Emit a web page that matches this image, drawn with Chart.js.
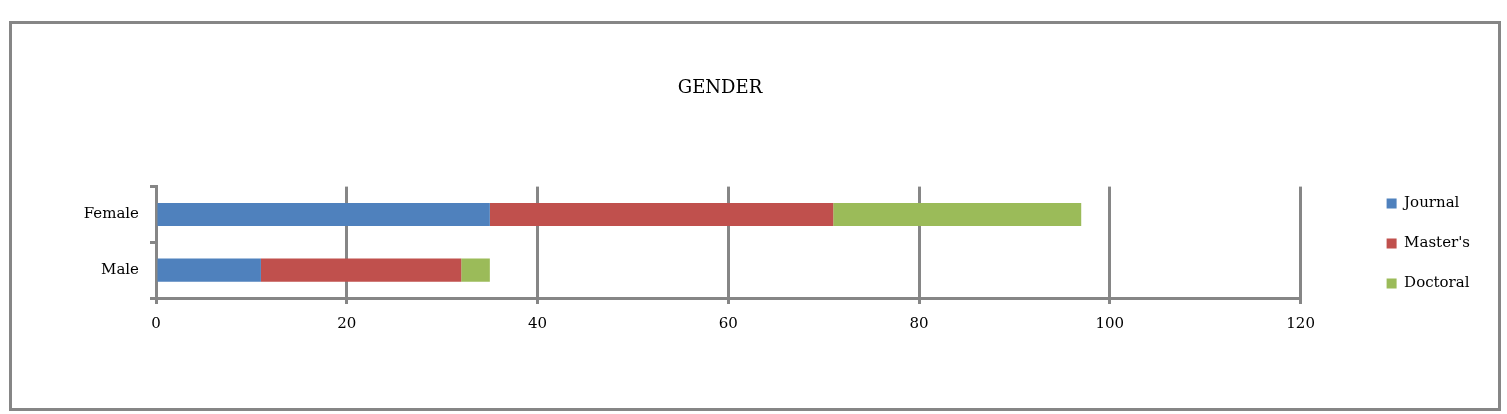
<!DOCTYPE html>
<html>
<head>
<meta charset="utf-8">
<script src="https://cdn.jsdelivr.net/npm/chart.js@4"></script>
<style>
  html, body { margin: 0; padding: 0; background: #fff; }
  #wrap { position: relative; width: 1507px; height: 414px; }
  #frame {
    position: absolute; left: 9px; top: 21px; width: 1492px; height: 390px;
    box-sizing: border-box; border: 3px solid #868686; pointer-events: none;
  }
  canvas { position: absolute; left: 0; top: 0; }
</style>
</head>
<body>
<div id="wrap">
  <canvas id="chart" width="1507" height="414"></canvas>
  <div id="frame"></div>
</div>
<script>
const categories = ["Female", "Male"];
const journal = [35, 11];
const masters = [36, 21];
const doctoral = [26, 3];
const xTicks = [0, 20, 40, 60, 80, 100, 120];

const axisGray = "#868686";
const font = "'DejaVu Serif', serif";

// the legend box spans the full height; push it down next to the bars,
// and centre the title over the plot like the original
const nudge = {
  id: "nudge",
  afterLayout(chart) {
    const lg = chart.legend;
    lg.top += 171;
    const tb = chart.titleBlock;
    tb.left -= 20;
    tb.right -= 20;
  },
};

const ctx = document.getElementById("chart").getContext("2d");
const myChart = new Chart(ctx, {
  type: "bar",
  data: {
    labels: categories,
    datasets: [
      { label: "Journal", data: journal, backgroundColor: "#4F81BD" },
      { label: "Master's", data: masters, backgroundColor: "#C0504D" },
      { label: "Doctoral", data: doctoral, backgroundColor: "#9BBB59" },
    ],
  },
  plugins: [nudge],
  options: {
    indexAxis: "y",
    responsive: false,
    animation: false,
    devicePixelRatio: 1,
    datasets: {
      bar: { categoryPercentage: 1, barPercentage: 0.414, borderWidth: 0 },
    },
    layout: { padding: { left: 0, right: 27, top: 0, bottom: 76 } },
    plugins: {
      tooltip: { enabled: false },
      title: {
        display: true,
        text: "GENDER",
        color: "#000",
        font: { family: font, size: 18, weight: "normal" },
        padding: { top: 78, bottom: 71 },
      },
      legend: {
        position: "right",
        align: "start",
        labels: {
          color: "#000",
          font: { family: font, size: 15 },
          boxWidth: 10,
          boxHeight: 10,
          padding: 25,
        },
      },
    },
    scales: {
      x: {
        type: "linear",
        stacked: true,
        min: 0,
        max: 120,
        afterBuildTicks: (s) => { s.ticks = xTicks.map((v) => ({ value: v })); },
        afterFit: (s) => { s.height = 40; },
        grid: { color: axisGray, lineWidth: 3, tickLength: 6 },
        border: { color: axisGray, width: 3 },
        ticks: { color: "#000", font: { family: font, size: 15 }, padding: 11, maxRotation: 0 },
      },
      y: {
        stacked: true,
        afterFit: (s) => { s.width = 156; },
        grid: { drawOnChartArea: false, color: axisGray, lineWidth: 3, tickLength: 6 },
        border: { color: axisGray, width: 3 },
        ticks: { color: "#000", font: { family: font, size: 15 }, padding: 11 },
      },
      // spacer axes: keep the gap above the plot and before the legend
      xTop: {
        type: "linear",
        position: "top",
        afterFit: (s) => { s.height = 16; },
        grid: { display: false },
        border: { display: false },
        ticks: { display: false },
      },
      yRight: {
        type: "category",
        position: "right",
        afterFit: (s) => { s.width = 61; },
        grid: { display: false },
        border: { display: false },
        ticks: { display: false },
      },
    },
  },
});
</script>
</body>
</html>
